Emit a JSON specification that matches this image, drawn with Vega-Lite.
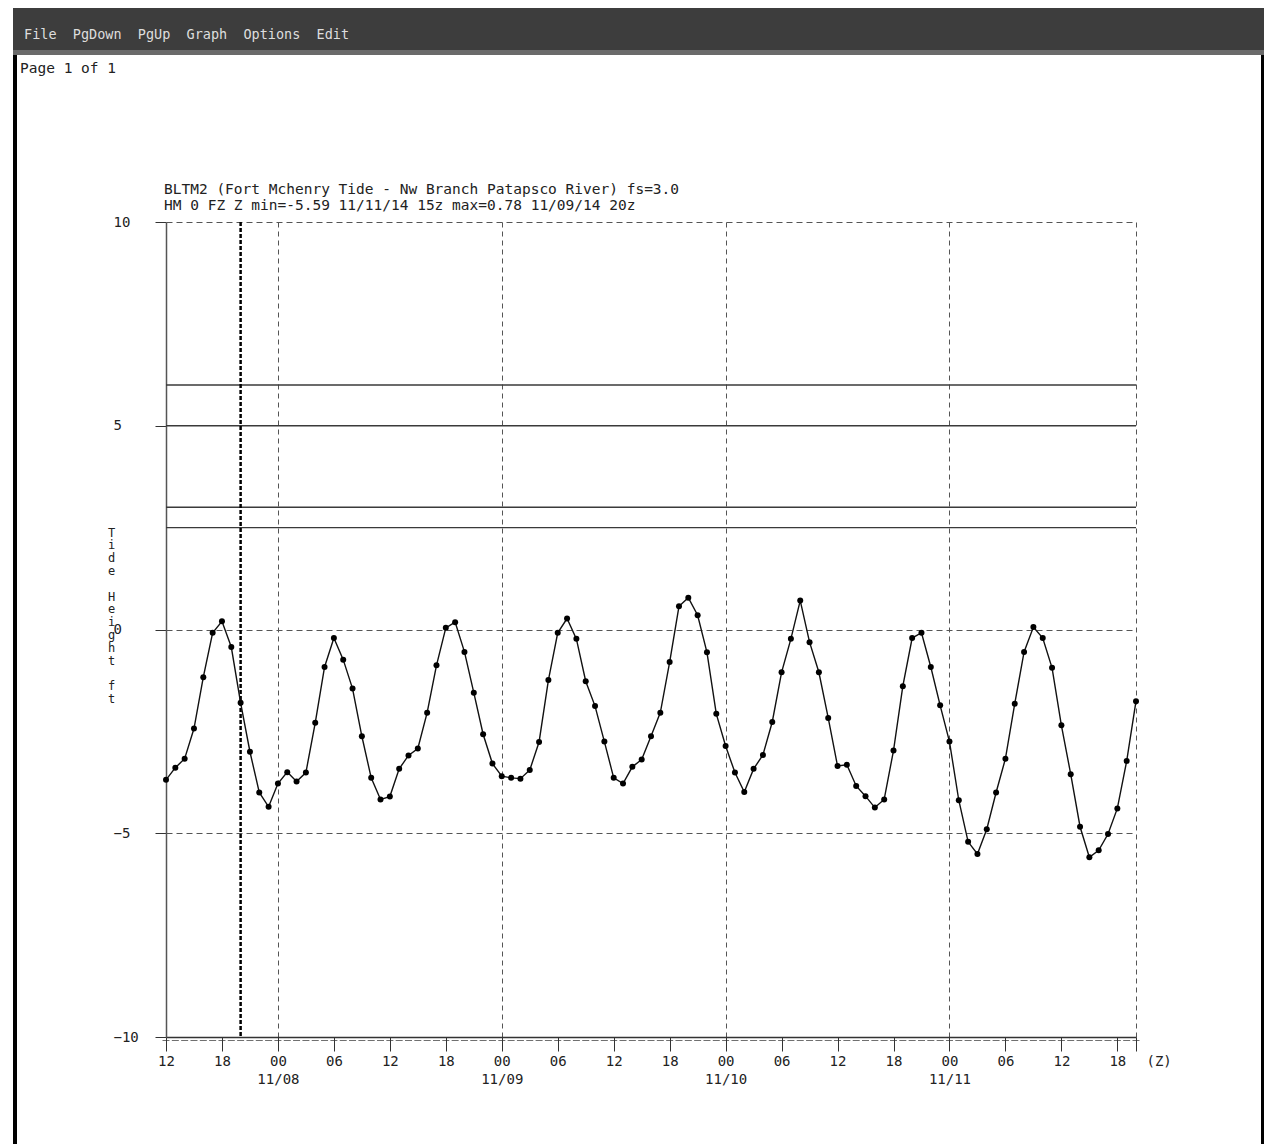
{
  "$schema": "https://vega.github.io/schema/vega-lite/v6.json",
  "background": "white",
  "padding": {"left": 13, "top": 8, "right": 0, "bottom": 0},
  "bounds": "flush",
  "spacing": 0,
  "config": {"font": "DejaVu Sans Mono"},
  "vconcat": [
    {
      "width": 1251,
      "height": 42,
      "view": {"fill": "#3d3d3d", "stroke": null},
      "title": {"text": "File\u00a0\u00a0PgDown\u00a0\u00a0PgUp\u00a0\u00a0Graph\u00a0\u00a0Options\u00a0\u00a0Edit", "orient": "top", "anchor": "start", "offset": -33, "dx": 11, "font": "DejaVu Sans Mono", "fontSize": 13.5, "fontWeight": "normal", "color": "#dddddd"},
      "data": {"values": [{}]},
      "mark": {"type": "text"},
      "encoding": {"text": {"value": ""}}
    },
    {
      "width": 1251,
      "height": 5,
      "view": {"fill": "#6a6a6a", "stroke": null},
      "title": {"text": "Page 1 of 1", "orient": "bottom", "anchor": "start", "offset": 4, "dx": 7, "baseline": "top", "font": "DejaVu Sans Mono", "fontSize": 14.5, "fontWeight": "normal", "color": "#222222"},
      "data": {"values": [{}]},
      "mark": {"type": "text"},
      "encoding": {"text": {"value": ""}}
    },
    {
      "bounds": "full",
      "spacing": 89,
      "hconcat": [
        {
          "width": 4,
          "height": 1089,
          "view": {"fill": "#000000", "stroke": null},
          "data": {"values": [{}]},
          "mark": {"type": "text"},
          "encoding": {"text": {"value": ""}}
        },
        {
          "bounds": "flush",
          "spacing": 0,
          "vconcat": [
            {
              "width": 970,
              "height": 167,
              "view": {"stroke": null},
              "data": {"values": [{}]},
              "mark": {"type": "text"},
              "encoding": {"text": {"value": ""}}
            },
            {
              "width": 970,
              "height": 815,
              "view": {"stroke": null},
              "title": {
                "text": ["BLTM2 (Fort Mchenry Tide - Nw Branch Patapsco River) fs=3.0", "HM 0 FZ Z min=-5.59 11/11/14 15z max=0.78 11/09/14 20z"],
                "anchor": "start",
                "frame": "group",
                "font": "DejaVu Sans Mono",
                "fontSize": 14.5,
                "fontWeight": "normal",
                "color": "#222222",
                "lineHeight": 16,
                "offset": 2,
                "dx": -2
              },
              "data": {"values": [
                {"t": "2014-11-07T12:00:00Z", "ft": -3.69},
                {"t": "2014-11-07T13:00:00Z", "ft": -3.39},
                {"t": "2014-11-07T14:00:00Z", "ft": -3.17},
                {"t": "2014-11-07T15:00:00Z", "ft": -2.43},
                {"t": "2014-11-07T16:00:00Z", "ft": -1.17},
                {"t": "2014-11-07T17:00:00Z", "ft": -0.08},
                {"t": "2014-11-07T18:00:00Z", "ft": 0.20},
                {"t": "2014-11-07T19:00:00Z", "ft": -0.43},
                {"t": "2014-11-07T20:00:00Z", "ft": -1.80},
                {"t": "2014-11-07T21:00:00Z", "ft": -3.00},
                {"t": "2014-11-07T22:00:00Z", "ft": -4.00},
                {"t": "2014-11-07T23:00:00Z", "ft": -4.35},
                {"t": "2014-11-08T00:00:00Z", "ft": -3.78},
                {"t": "2014-11-08T01:00:00Z", "ft": -3.50},
                {"t": "2014-11-08T02:00:00Z", "ft": -3.73},
                {"t": "2014-11-08T03:00:00Z", "ft": -3.51},
                {"t": "2014-11-08T04:00:00Z", "ft": -2.29},
                {"t": "2014-11-08T05:00:00Z", "ft": -0.92},
                {"t": "2014-11-08T06:00:00Z", "ft": -0.21},
                {"t": "2014-11-08T07:00:00Z", "ft": -0.74},
                {"t": "2014-11-08T08:00:00Z", "ft": -1.45},
                {"t": "2014-11-08T09:00:00Z", "ft": -2.62},
                {"t": "2014-11-08T10:00:00Z", "ft": -3.64},
                {"t": "2014-11-08T11:00:00Z", "ft": -4.17},
                {"t": "2014-11-08T12:00:00Z", "ft": -4.10},
                {"t": "2014-11-08T13:00:00Z", "ft": -3.42},
                {"t": "2014-11-08T14:00:00Z", "ft": -3.09},
                {"t": "2014-11-08T15:00:00Z", "ft": -2.92},
                {"t": "2014-11-08T16:00:00Z", "ft": -2.04},
                {"t": "2014-11-08T17:00:00Z", "ft": -0.88},
                {"t": "2014-11-08T18:00:00Z", "ft": 0.04},
                {"t": "2014-11-08T19:00:00Z", "ft": 0.18},
                {"t": "2014-11-08T20:00:00Z", "ft": -0.55},
                {"t": "2014-11-08T21:00:00Z", "ft": -1.55},
                {"t": "2014-11-08T22:00:00Z", "ft": -2.57},
                {"t": "2014-11-08T23:00:00Z", "ft": -3.29},
                {"t": "2014-11-09T00:00:00Z", "ft": -3.60},
                {"t": "2014-11-09T01:00:00Z", "ft": -3.64},
                {"t": "2014-11-09T02:00:00Z", "ft": -3.66},
                {"t": "2014-11-09T03:00:00Z", "ft": -3.45},
                {"t": "2014-11-09T04:00:00Z", "ft": -2.76},
                {"t": "2014-11-09T05:00:00Z", "ft": -1.24},
                {"t": "2014-11-09T06:00:00Z", "ft": -0.08},
                {"t": "2014-11-09T07:00:00Z", "ft": 0.27},
                {"t": "2014-11-09T08:00:00Z", "ft": -0.23},
                {"t": "2014-11-09T09:00:00Z", "ft": -1.27},
                {"t": "2014-11-09T10:00:00Z", "ft": -1.88},
                {"t": "2014-11-09T11:00:00Z", "ft": -2.75},
                {"t": "2014-11-09T12:00:00Z", "ft": -3.64},
                {"t": "2014-11-09T13:00:00Z", "ft": -3.78},
                {"t": "2014-11-09T14:00:00Z", "ft": -3.37},
                {"t": "2014-11-09T15:00:00Z", "ft": -3.19},
                {"t": "2014-11-09T16:00:00Z", "ft": -2.62},
                {"t": "2014-11-09T17:00:00Z", "ft": -2.04},
                {"t": "2014-11-09T18:00:00Z", "ft": -0.80},
                {"t": "2014-11-09T19:00:00Z", "ft": 0.57},
                {"t": "2014-11-09T20:00:00Z", "ft": 0.78},
                {"t": "2014-11-09T21:00:00Z", "ft": 0.35},
                {"t": "2014-11-09T22:00:00Z", "ft": -0.56},
                {"t": "2014-11-09T23:00:00Z", "ft": -2.07},
                {"t": "2014-11-10T00:00:00Z", "ft": -2.86},
                {"t": "2014-11-10T01:00:00Z", "ft": -3.51},
                {"t": "2014-11-10T02:00:00Z", "ft": -3.99},
                {"t": "2014-11-10T03:00:00Z", "ft": -3.42},
                {"t": "2014-11-10T04:00:00Z", "ft": -3.08},
                {"t": "2014-11-10T05:00:00Z", "ft": -2.27},
                {"t": "2014-11-10T06:00:00Z", "ft": -1.05},
                {"t": "2014-11-10T07:00:00Z", "ft": -0.23},
                {"t": "2014-11-10T08:00:00Z", "ft": 0.71},
                {"t": "2014-11-10T09:00:00Z", "ft": -0.31},
                {"t": "2014-11-10T10:00:00Z", "ft": -1.05},
                {"t": "2014-11-10T11:00:00Z", "ft": -2.17},
                {"t": "2014-11-10T12:00:00Z", "ft": -3.35},
                {"t": "2014-11-10T13:00:00Z", "ft": -3.32},
                {"t": "2014-11-10T14:00:00Z", "ft": -3.84},
                {"t": "2014-11-10T15:00:00Z", "ft": -4.09},
                {"t": "2014-11-10T16:00:00Z", "ft": -4.37},
                {"t": "2014-11-10T17:00:00Z", "ft": -4.17},
                {"t": "2014-11-10T18:00:00Z", "ft": -2.97},
                {"t": "2014-11-10T19:00:00Z", "ft": -1.39},
                {"t": "2014-11-10T20:00:00Z", "ft": -0.21},
                {"t": "2014-11-10T21:00:00Z", "ft": -0.08},
                {"t": "2014-11-10T22:00:00Z", "ft": -0.92},
                {"t": "2014-11-10T23:00:00Z", "ft": -1.86},
                {"t": "2014-11-11T00:00:00Z", "ft": -2.75},
                {"t": "2014-11-11T01:00:00Z", "ft": -4.19},
                {"t": "2014-11-11T02:00:00Z", "ft": -5.21},
                {"t": "2014-11-11T03:00:00Z", "ft": -5.51},
                {"t": "2014-11-11T04:00:00Z", "ft": -4.90},
                {"t": "2014-11-11T05:00:00Z", "ft": -4.00},
                {"t": "2014-11-11T06:00:00Z", "ft": -3.17},
                {"t": "2014-11-11T07:00:00Z", "ft": -1.82},
                {"t": "2014-11-11T08:00:00Z", "ft": -0.55},
                {"t": "2014-11-11T09:00:00Z", "ft": 0.06},
                {"t": "2014-11-11T10:00:00Z", "ft": -0.21},
                {"t": "2014-11-11T11:00:00Z", "ft": -0.94},
                {"t": "2014-11-11T12:00:00Z", "ft": -2.35},
                {"t": "2014-11-11T13:00:00Z", "ft": -3.55},
                {"t": "2014-11-11T14:00:00Z", "ft": -4.84},
                {"t": "2014-11-11T15:00:00Z", "ft": -5.59},
                {"t": "2014-11-11T16:00:00Z", "ft": -5.42},
                {"t": "2014-11-11T17:00:00Z", "ft": -5.02},
                {"t": "2014-11-11T18:00:00Z", "ft": -4.39},
                {"t": "2014-11-11T19:00:00Z", "ft": -3.23},
                {"t": "2014-11-11T20:00:00Z", "ft": -1.76}
              ]},
              "layer": [
                {
                  "data": {"values": [{"stage": 2.5}, {"stage": 3}, {"stage": 5}, {"stage": 6}]},
                  "mark": {"type": "rule", "color": "#3a3a3a", "strokeWidth": 1.4},
                  "encoding": {"y": {"field": "stage", "type": "quantitative"}}
                },
                {
                  "data": {"values": [{"now": "2014-11-07T20:00:00Z"}]},
                  "mark": {"type": "rule", "color": "#000000", "strokeWidth": 2.5, "strokeDash": [4, 2]},
                  "encoding": {"x": {"field": "now", "type": "temporal"}}
                },
                {
                  "mark": {"type": "tick", "color": "#333333", "thickness": 1, "size": 7, "yOffset": 3.5},
                  "encoding": {
                    "x": {"field": "t", "type": "temporal"},
                    "y": {"datum": -10, "type": "quantitative"}
                  }
                },
                {
                  "mark": {"type": "line", "color": "#111111", "strokeWidth": 1.4, "point": {"filled": true, "color": "#000000", "size": 36}},
                  "encoding": {
                    "x": {
                      "field": "t",
                      "type": "temporal",
                      "scale": {"type": "utc", "domain": [{"year": 2014, "month": 11, "date": 7, "hours": 12, "utc": true}, {"year": 2014, "month": 11, "date": 11, "hours": 20, "utc": true}]},
                      "axis": {
                        "title": null,
                        "tickCount": 104,
                        "labelExpr": "utchours(datum.value) % 6 === 0 ? (utchours(datum.value) === 0 ? [utcFormat(datum.value, '%H'), utcFormat(datum.value, '%m/%d')] : utcFormat(datum.value, '%H')) : ((utchours(datum.value) === 20 && utcdate(datum.value) === 11) ? '\u2800(Z)' : '')",
                        "labelOverlap": false,
                        "labelFlush": false,
                        "labelBound": false,
                        "labelFont": "DejaVu Sans Mono",
                        "labelFontSize": 14,
                        "labelColor": "#222222",
                        "labelLineHeight": 18,
                        "labelBaseline": "top",
                        "labelAlign": {"condition": {"test": "utchours(datum.value) === 20 && utcdate(datum.value) === 11", "value": "left"}, "value": "center"},
                        "labelPadding": 3,
                        "tickSize": 14,
                        "tickColor": "#333333",
                        "tickWidth": 1,
                        "tickOpacity": {"condition": {"test": "utchours(datum.value) % 6 === 0 || (utchours(datum.value) === 20 && utcdate(datum.value) === 11)", "value": 1}, "value": 0},
                        "domainColor": "#333333",
                        "domainWidth": 1.5,
                        "grid": true,
                        "gridColor": "#555555",
                        "gridDash": [5, 4],
                        "gridWidth": 1,
                        "gridOpacity": {"condition": {"test": "utchours(datum.value) === 0 || (utchours(datum.value) === 20 && utcdate(datum.value) === 11)", "value": 1}, "value": 0}
                      }
                    },
                    "y": {
                      "field": "ft",
                      "type": "quantitative",
                      "scale": {"domain": [-10, 10], "nice": false, "zero": false},
                      "axis": {
                        "title": ["T", "i", "d", "e", "\u2800", "H", "e", "i", "g", "h", "t", "\u2800", "f", "t"],
                        "titleAngle": 0,
                        "titleX": -55,
                        "titleY": 305,
                        "titleAlign": "center",
                        "titleBaseline": "top",
                        "titleFont": "DejaVu Sans Mono",
                        "titleFontSize": 12,
                        "titleFontWeight": "normal",
                        "titleColor": "#222222",
                        "titleLineHeight": 12.8,
                        "values": [-10, -5, 0, 5, 10],
                        "labelAlign": "left",
                        "labelBaseline": "middle",
                        "labelPadding": 42,
                        "labelFont": "DejaVu Sans Mono",
                        "labelFontSize": 14,
                        "labelColor": "#222222",
                        "labelFlush": false,
                        "labelOverlap": false,
                        "tickSize": 11,
                        "tickColor": "#333333",
                        "domainColor": "#555555",
                        "domainWidth": 1.5,
                        "grid": true,
                        "gridColor": "#555555",
                        "gridDash": [6, 4],
                        "gridWidth": 1,
                        "gridOpacity": {"condition": {"test": "datum.value === -10 || datum.value === 5", "value": 0}, "value": 1}
                      }
                    }
                  }
                }
              ]
            }
          ]
        },
        {
          "width": 8,
          "height": 1089,
          "view": {"fill": "#000000", "stroke": null},
          "data": {"values": [{}]},
          "mark": {"type": "text"},
          "encoding": {"text": {"value": ""}}
        }
      ]
    }
  ]
}
